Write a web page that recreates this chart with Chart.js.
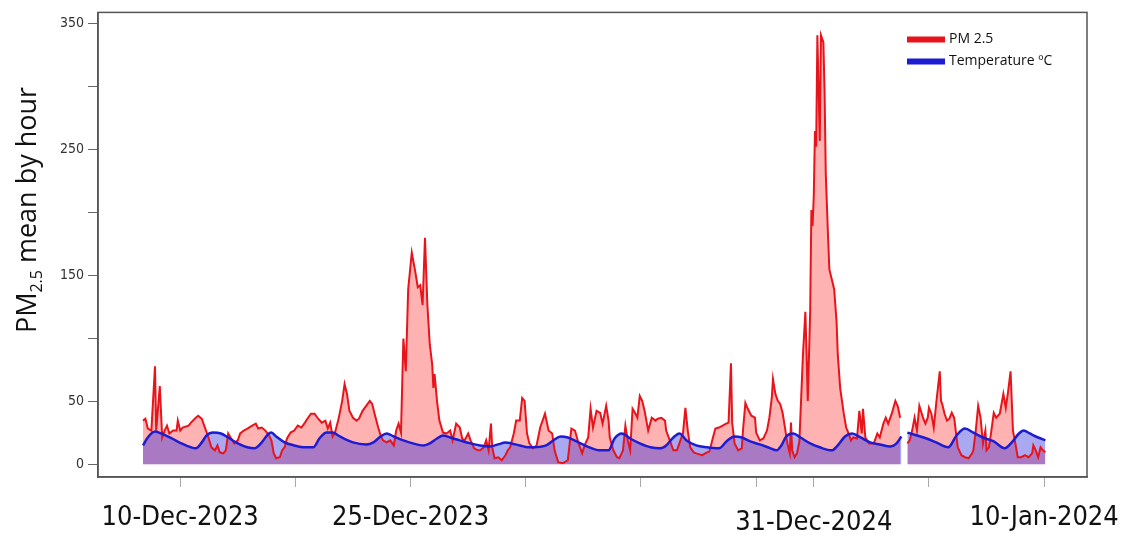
<!DOCTYPE html>
<html>
<head>
<meta charset="utf-8">
<script src="https://cdn.jsdelivr.net/npm/chart.js@4.4.1/dist/chart.umd.min.js"></script>
<style>
  html, body { margin: 0; padding: 0; background: #fff; }
  #wrap { width: 1144px; height: 536px; position: relative; }
</style>
</head>
<body>
<div id="wrap"><canvas id="c" width="1144" height="536"></canvas></div>
<script>
// ---- Data (x = hour index of the record, y = value) ----
const pmHours = [
  0,2,4,7,10,11,14,16,18,20,
  22,25,28,29,31,33,38,40,44,46,
  49,51,54,57,60,62,64,67,69,71,
  73,76,79,81,84,87,91,94,96,99,
  102,105,107,109,111,114,116,118,120,123,
  126,129,132,135,137,140,143,146,149,152,
  154,156,158,160,163,166,168,170,172,175,
  178,180,183,186,189,191,193,196,198,200,
  203,206,209,211,213,215,217,219,221,224,
  227,229,231,233,235,237,239,241,242,243,
  245,247,250,253,256,258,261,264,266,268,
  271,273,276,279,281,284,286,288,290,291,
  293,296,299,302,304,306,309,311,314,316,
  318,320,322,325,328,331,335,338,341,343,
  346,350,354,357,360,363,366,368,371,373,
  375,378,381,383,386,388,389,392,395,397,
  400,402,404,406,408,410,412,414,416,418,
  421,424,427,429,432,435,436,439,442,445,
  447,450,452,454,456,459,461,466,470,472,
  475,477,480,483,486,488,490,491,493,496,
  499,500,502,504,507,510,511,514,517,520,
  522,524,525,527,529,531,533,535,537,539,
  540,541,543,545,547,550,552,553,554,556,
  557,558,559,560,561,562,564,565,567,568,
  569,571,572,574,576,578,579,581,584,586,
  588,590,592,595,597,599,600,602,605,609,
  612,614,617,619,621,624,627,629,631,634,
  637,639,641,643,645,647,650,652,654,655,
  657,659,661,664,665,666,668,670,672,674,
  676,677,679,682,685,688,691,692,694,696,
  698,700,702,703,705,707,709,711,714,717,
  719,721,723,725,727,729,732,735,738,741,
  742,744,746,748,750,752
];
const pmValues = [
  34.6,36.1,28.3,26.7,77.8,26.7,62.1,21.2,26.7,30.6,
  24.4,26.7,26.7,34.6,26.7,29.1,30.6,33.0,36.9,38.5,
  36.1,30.6,22.8,13.4,11.0,14.9,9.4,8.6,11.0,24.4,
  21.2,16.5,18.9,24.4,26.7,28.3,30.6,32.2,28.3,29.1,
  26.7,22.8,18.9,8.6,4.7,5.5,11.0,13.4,20.4,25.1,
  26.7,30.6,29.1,33.0,36.1,40.1,40.1,36.1,33.0,34.6,
  28.3,33.0,22.0,25.0,36.0,50.3,63.6,55.8,42.4,36.9,
  34.6,36.1,42.4,46.3,50.3,47.9,40.1,29.1,22.8,18.9,
  17.3,18.9,14.9,26.7,32.2,25.1,99.8,73.8,139.0,168.1,
  152.4,140.6,142.2,126.5,179.9,126.5,95.1,79.3,60.5,71.5,
  50.3,34.6,25.1,24.4,26.7,18.9,32.2,29.1,20.4,18.9,
  24.4,18.9,12.6,11.0,11.0,13.4,18.9,11.0,32.2,13.4,
  4.7,5.5,3.1,7.1,11.0,13.4,24.4,34.6,34.6,52.6,
  50.3,24.4,16.5,12.6,14.9,29.1,40.1,26.7,24.4,11.0,
  1.6,0.8,3.1,28.3,26.7,16.5,8.6,14.9,21.2,44.0,
  29.1,42.4,40.8,32.2,46.3,34.6,21.2,11.0,5.5,4.7,
  11.0,30.6,18.9,11.0,44.0,40.8,36.9,54.2,50.3,42.4,
  26.7,36.9,34.6,36.1,36.9,34.6,26.7,18.9,11.0,11.0,
  16.5,24.4,44.8,26.7,13.4,9.4,8.6,7.1,9.4,10.0,
  21.2,28.3,29.1,30.6,32.2,33.0,80.1,33.0,16.5,11.0,
  12.6,26.7,48.7,44.0,38.5,36.9,25.1,18.9,20.4,26.7,
  36.9,52.6,67.6,55.8,50.3,47.9,40.8,29.1,16.5,8.6,
  33.0,11.0,5.5,8.6,18.0,87.2,121.0,87.2,50.3,121.0,
  201.9,189.3,212.9,264.7,252.2,340.9,256.9,340.9,335.4,296.2,
  231.0,178.3,154.8,146.9,139.0,113.1,87.2,60.5,40.1,29.1,
  24.4,18.9,21.2,20.4,42.4,24.4,44.0,21.2,16.5,16.5,
  24.4,21.2,32.2,36.9,32.2,40.1,50.3,46.0,36.9,null,
  16.5,18.9,26.7,36.9,26.7,46.3,36.9,32.2,36.9,44.8,
  40.1,29.1,47.9,73.8,50.3,47.9,40.1,34.6,36.1,40.8,
  36.9,29.1,13.4,7.1,5.5,4.7,8.6,11.0,26.7,46.3,
  36.9,16.5,26.7,11.0,13.4,26.7,40.8,36.9,40.1,55.8,
  44.8,58.1,73.8,26.7,16.5,5.5,5.5,7.1,5.5,8.6,
  14.9,11.0,5.5,13.4,11.0,9.4
];
const tempHours = [
  0,4,10,15,24,32,40,44,49,53,
  58,65,71,79,87,93,99,104,107,111,
  118,126,135,142,147,153,158,164,175,186,
  192,198,203,209,217,225,234,239,245,250,
  256,264,273,281,289,296,302,307,314,321,
  325,336,342,348,354,363,372,381,388,393,
  399,406,414,423,431,436,442,447,453,461,
  470,480,487,493,499,506,514,523,528,532,
  536,542,548,556,564,574,579,585,591,598,
  606,614,623,628,632,634,637,645,653,661,
  671,678,685,692,700,709,718,724,730,734,
  739,746,752
];
const tempValues = [
  14.9,21.2,25.9,24.4,20.4,16.5,13.4,12.6,17.3,22.8,
  25.1,24.4,21.2,16.5,13.4,12.6,17.3,23.6,25.1,22.0,
  17.3,14.9,13.4,13.4,20.4,25.1,25.1,22.0,17.3,15.7,
  17.3,22.0,24.4,22.0,18.9,16.5,14.9,16.5,20.4,22.8,
  21.2,18.9,16.5,14.9,14.1,15.7,17.3,16.5,14.9,13.4,
  13.4,14.9,18.9,22.0,21.2,17.3,13.4,11.0,11.0,20.4,
  24.4,20.4,16.5,13.4,12.6,14.9,21.2,24.4,18.9,14.9,
  13.4,12.6,18.9,22.0,21.2,18.1,15.7,12.6,11.0,14.9,
  22.0,24.4,21.2,16.5,13.4,11.0,14.9,22.0,24.4,21.2,
  17.3,15.7,14.1,16.5,22.0,null,25.1,22.8,20.4,17.3,
  13.4,22.8,28.3,25.1,21.2,18.1,12.6,17.3,24.4,26.7,
  24.4,21.2,18.9
];
const xTickHours = [31,127,223,319,415,511,559,655,751];
const xTickLabels = ['10-Dec-2023','','25-Dec-2023','','','','31-Dec-2024','','10-Jan-2024'];
const yTickValues = [0,50,100,150,200,250,300,350];
const yTickLabels = ['0','50','','150','','250','','350'];
const seriesNames = ['PM 2.5', 'Temperature \u00BAC'];

const RED = '#e8141b';
const BLUE = '#1c1cd2';
const NARROW = "'Liberation Sans Narrow', 'DejaVu Sans Condensed', 'Arial Narrow', sans-serif";

const decorPlugin = {
  id: 'decor',
  afterDraw(chart) {
    const ctx = chart.ctx;
    const a = chart.chartArea;
    ctx.save();
    // full box
    ctx.strokeStyle = '#555';
    ctx.lineWidth = 1.5;
    ctx.strokeRect(a.left, a.top, a.right - a.left, a.bottom - a.top);
    // legend
    const lx = a.right - 180, ly1 = a.top + 27, ly2 = a.top + 49;
    ctx.lineWidth = 6;
    ctx.lineCap = 'butt';
    ctx.strokeStyle = RED;
    ctx.beginPath(); ctx.moveTo(lx, ly1); ctx.lineTo(lx + 38, ly1); ctx.stroke();
    ctx.strokeStyle = BLUE;
    ctx.beginPath(); ctx.moveTo(lx, ly2); ctx.lineTo(lx + 38, ly2); ctx.stroke();
    ctx.fillStyle = '#111';
    ctx.font = "14px 'Open Sans', sans-serif";
    ctx.textBaseline = 'middle';
    ctx.textAlign = 'left';
    ctx.fillText(seriesNames[0], lx + 42, ly1);
    ctx.fillText(seriesNames[1], lx + 42, ly2);
    // y-axis title with subscript
    const big = "27px 'Open Sans', sans-serif";
    const small = "16px 'Open Sans', sans-serif";
    ctx.font = big; const w1 = ctx.measureText('PM').width;
    const w3 = ctx.measureText(' mean by hour').width;
    ctx.font = small; const w2 = ctx.measureText('2.5').width;
    const total = w1 + w2 + w3;
    ctx.translate(26, 210);
    ctx.rotate(-Math.PI / 2);
    let x = -total / 2;
    ctx.fillStyle = '#111';
    ctx.textBaseline = 'alphabetic';
    ctx.font = big; ctx.fillText('PM', x, 10); x += w1;
    ctx.font = small; ctx.fillText('2.5', x, 16); x += w2;
    ctx.font = big; ctx.fillText(' mean by hour', x, 10);
    ctx.restore();
  }
};

new Chart(document.getElementById('c'), {
  type: 'line',
  data: {
    datasets: [
      {
        label: seriesNames[0],
        data: pmHours.map((h, i) => ({ x: h, y: pmValues[i] })),
        borderColor: RED,
        backgroundColor: 'rgba(255,0,0,0.30)',
        borderWidth: 2,
        pointRadius: 0,
        tension: 0,
        fill: 'origin',
        spanGaps: false,
        order: 1
      },
      {
        label: seriesNames[1],
        data: tempHours.map((h, i) => ({ x: h, y: tempValues[i] })),
        borderColor: BLUE,
        backgroundColor: 'rgba(30,30,220,0.38)',
        borderWidth: 2.5,
        pointRadius: 0,
        cubicInterpolationMode: 'monotone',
        fill: 'origin',
        spanGaps: false,
        order: 0
      }
    ]
  },
  options: {
    responsive: false,
    animation: false,
    layout: { padding: { top: 7, right: 57, left: 0, bottom: 0 } },
    plugins: {
      legend: { display: false },
      tooltip: { enabled: false },
      filler: { drawTime: 'beforeDatasetsDraw' }
    },
    scales: {
      x: {
        type: 'linear',
        min: -37.5,
        max: 786.7,
        afterBuildTicks: (s) => { s.ticks = xTickHours.map(v => ({ value: v })); },
        afterFit: (s) => { s.height = 59; },
        grid: { drawOnChartArea: false, drawTicks: true, tickLength: 10, color: '#aaa' },
        border: { display: true, color: '#555', width: 1.5 },
        ticks: {
          autoSkip: false,
          maxRotation: 0,
          padding: 15,
          color: '#111',
          font: (c) => ({ family: NARROW, size: 27, lineHeight: c.index === 6 ? 1.52 : 1.2 }),
          callback: (v, i) => xTickLabels[i]
        }
      },
      y: {
        min: -10.2,
        max: 359,
        afterBuildTicks: (s) => { s.ticks = yTickValues.map(v => ({ value: v })); },
        afterFit: (s) => { s.width = 98; },
        grid: { drawOnChartArea: false, drawTicks: true, tickLength: 10, color: '#666' },
        border: { display: true, color: '#555', width: 1.5 },
        ticks: {
          padding: 4,
          color: '#333',
          font: { family: NARROW, size: 14 },
          callback: (v, i) => yTickLabels[i]
        }
      }
    }
  },
  plugins: [decorPlugin]
});
</script>
</body>
</html>
